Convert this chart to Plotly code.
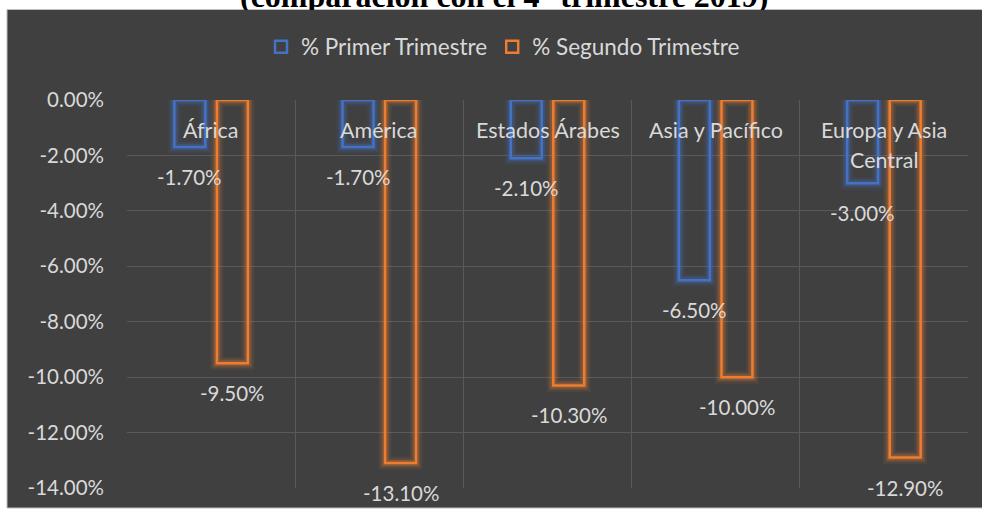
import textwrap
import plotly.graph_objects as go

# ---- data ----
categories = ["África", "América", "Estados Árabes", "Asia y Pacífico", "Europa y Asia Central"]
primer_trimestre = [-1.7, -1.7, -2.1, -6.5, -3.0]
segundo_trimestre = [-9.5, -13.1, -10.3, -10.0, -12.9]
series_names = ["% Primer Trimestre", "% Segundo Trimestre"]
y_tick_values = [0, -2, -4, -6, -8, -10, -12, -14]
y_tick_labels = [f"{v:.2f}%" for v in y_tick_values]
title_text = "(comparación con el 4° trimestre 2019)"

# ---- style ----
W, H = 982, 510
ML, MR, MT, MB = 127, 14, 100, 22
PW, PH = W - ML - MR, H - MT - MB
BG = "#404040"
GRID = "#595959"
TXT = "#d9d9d9"
FONT = "Lato"
BLUE = "68,114,196"
ORANGE = "237,125,49"
BAR_W = 0.184
CENTERS = [-0.1265, 0.1265]


def px_x(p):
    return (p - ML) / PW


def px_y(p):
    return (H - MB - p) / PH


fig = go.Figure()
idx = list(range(len(categories)))
series = [primer_trimestre, segundo_trimestre]
colors = [BLUE, ORANGE]

# glow layers
for vals, col, c in zip(series, colors, CENTERS):
    for lw, a in [(13, 0.08), (9, 0.14), (6, 0.22)]:
        fig.add_trace(go.Bar(
            x=idx, y=vals, width=BAR_W, offset=c - BAR_W / 2,
            marker=dict(color="rgba(0,0,0,0)", line=dict(color=f"rgba({col},{a})", width=lw)),
            showlegend=False, hoverinfo="skip",
        ))

for vals, col, c, name in zip(series, colors, CENTERS, series_names):
    fig.add_trace(go.Bar(
        x=idx, y=vals, width=BAR_W, offset=c - BAR_W / 2, name=name,
        marker=dict(color="rgba(0,0,0,0)", line=dict(color=f"rgb({col})", width=2.5)),
    ))

annotations = []
# data labels
for vals, c in zip(series, CENTERS):
    for i, v in zip(idx, vals):
        annotations.append(dict(
            x=i + c, y=v, xref="x", yref="y", text=f"{v:.2f}%", showarrow=False,
            yanchor="middle", yshift=-30, font=dict(family=FONT, size=20.5, color=TXT),
        ))
# category labels
for i, name in zip(idx, categories):
    for k, line in enumerate(textwrap.wrap(name, 15)):
        annotations.append(dict(
            x=i, y=0, xref="x", yref="y", text=line, showarrow=False,
            yanchor="middle", yshift=-30 - 30 * k, font=dict(family=FONT, size=21.5, color=TXT),
        ))
# cut-off title (lower part hidden behind the chart box)
annotations.append(dict(
    x=px_x(504), y=px_y(-4), xref="paper", yref="paper", text=f"<b>{title_text}</b>",
    showarrow=False, xanchor="center", yanchor="middle",
    font=dict(family="Liberation Serif", size=32, color="black"),
))
annotations.append(dict(
    x=px_x(504), y=px_y(10.5), xref="paper", yref="paper", text=" ",
    showarrow=False, xanchor="center", yanchor="top", width=560, height=12,
    bgcolor=BG, borderpad=0, borderwidth=0, font=dict(size=4),
))

fig.update_layout(
    width=W, height=H,
    margin=dict(l=ML, r=MR, t=MT, b=MB),
    paper_bgcolor="white", plot_bgcolor="rgba(0,0,0,0)",
    barmode="overlay",
    shapes=[dict(
        type="rect", xref="paper", yref="paper", layer="below",
        x0=px_x(7), x1=px_x(990), y0=px_y(508), y1=px_y(9.5),
        fillcolor=BG, line=dict(color="#bfbfbf", width=1),
    )],
    legend=dict(
        orientation="h", x=px_x(503), xanchor="center", y=px_y(47), yanchor="middle",
        font=dict(family=FONT, size=22.5, color=TXT), bgcolor="rgba(0,0,0,0)",
        itemclick=False, itemdoubleclick=False,
    ),
    annotations=annotations,
    showlegend=True,
)
fig.update_xaxes(
    type="linear", range=[-0.5, len(categories) - 0.5],
    tickvals=[i - 0.5 for i in range(len(categories) + 1)], showticklabels=False,
    showgrid=True, gridcolor=GRID, gridwidth=1, zeroline=False, ticks="",
)
fig.update_yaxes(
    range=[-14, 0], tickvals=y_tick_values, ticktext=y_tick_labels,
    showgrid=True, gridcolor=GRID, gridwidth=1, zeroline=False,
    tickfont=dict(family=FONT, size=20.5, color=TXT), ticklabelstandoff=22,
)

fig.write_html(
    "out.html",
    config={"displayModeBar": False},
    post_script="document.body.style.margin='0';",
)
